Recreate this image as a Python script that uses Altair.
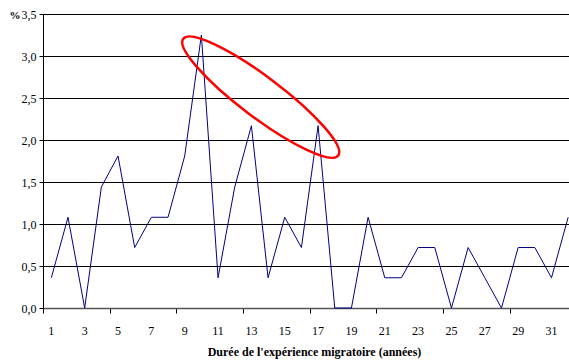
import altair as alt
import pandas as pd

# Years of migratory experience and share of respondents (%)
years = list(range(1, 33))
share = [0.36, 1.08, 0.00, 1.44, 1.81, 0.72, 1.08, 1.08, 1.81, 3.25,
         0.36, 1.44, 2.17, 0.36, 1.08, 0.72, 2.17, 0.00, 0.00, 1.08,
         0.36, 0.36, 0.72, 0.72, 0.00, 0.72, 0.36, 0.00, 0.72, 0.72,
         0.36, 1.08]
y_ticks = [0, 0.5, 1.0, 1.5, 2.0, 2.5, 3.0, 3.5]
x_ticks = [i + 0.5 for i in range(0, 32)]  # category boundaries
x_labels = list(range(1, 32, 2))           # labelled years

# Highlight ellipse around the 10-17 year peaks
highlight_x = [13.56]
highlight_y = [2.51]

FONT = "Liberation Serif"
W, H = 526, 294

df = pd.DataFrame({"year": years, "share": share})
hl = pd.DataFrame({"x": highlight_x, "y": highlight_y})
lab = pd.DataFrame({"year": x_labels})

x_scale = alt.Scale(domain=[0.5, 32.05], nice=False, zero=False)
y_scale = alt.Scale(domain=[0, 3.5], nice=False)

line = alt.Chart(df).mark_line(color="#000080", strokeWidth=1).encode(
    x=alt.X("year:Q", scale=x_scale,
            axis=alt.Axis(
                values=x_ticks, labels=False,
                tickSize=5, tickColor="#000",
                domainColor="#555", domainWidth=1.5,
                grid=False,
                title="Durée de l'expérience migratoire (années)",
                titleFont=FONT, titleFontSize=12, titleFontWeight="bold",
                titleColor="#000", titleBaseline="alphabetic", titleY=47,
                titleX=271, titleAlign="center",
            )),
    y=alt.Y("share:Q", scale=y_scale,
            axis=alt.Axis(
                values=y_ticks,
                labelExpr="replace(format(datum.value, '.1f'), '.', ',')",
                labelFont=FONT, labelFontSize=12, labelColor="#000",
                labelPadding=3,
                tickSize=4, tickColor="#000",
                domainColor="#000",
                grid=True, gridColor="#000", gridWidth=1,
                title="%", titleAngle=0, titleAlign="left",
                titleBaseline="alphabetic", titleX=-34, titleY=4,
                titleFont=FONT, titleFontSize=11, titleFontWeight="bold",
                titleColor="#000",
            )),
)

# Year labels centred under each odd category
labels = alt.Chart(lab).mark_text(
    font=FONT, fontSize=12, color="#000", baseline="alphabetic", align="center",
).encode(
    x=alt.X("year:Q", scale=x_scale),
    y=alt.value(H + 27),
    text=alt.Text("year:Q", format="d"),
)

ellipse_path = ("M -1 0 C -1 -0.116 -0.552 -0.21 0 -0.21 "
                "C 0.552 -0.21 1 -0.116 1 0 "
                "C 1 0.116 0.552 0.21 0 0.21 "
                "C -0.552 0.21 -1 0.116 -1 0 Z")

ellipse = alt.Chart(hl).mark_point(
    shape=ellipse_path, size=(2 * 97) ** 2, angle=37,
    filled=False, stroke="#ff0000", strokeWidth=2.5, opacity=1,
).encode(
    x=alt.X("x:Q", scale=x_scale),
    y=alt.Y("y:Q", scale=y_scale),
)

chart = alt.layer(line, labels, ellipse).properties(
    width=W, height=H,
    autosize=alt.AutoSizeParams(type="none"),
    padding={"left": 43, "top": 14, "right": 0, "bottom": 53},
    background="white",
).configure_view(stroke=None)

chart.save("out.html", embed_options={"renderer": "svg", "actions": False})
